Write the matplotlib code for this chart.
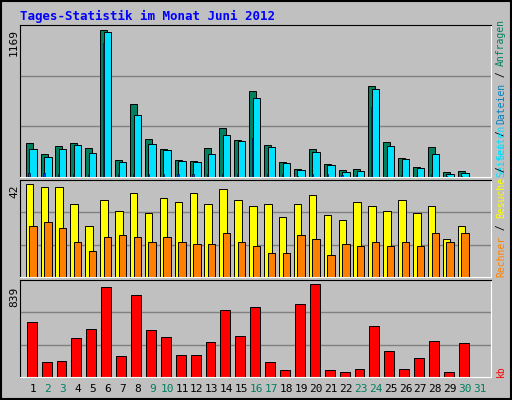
import matplotlib
matplotlib.use("Agg")
import matplotlib.pyplot as plt
import numpy as np

days = np.arange(1, 32)
hits  = [272, 185, 249, 272, 233, 1169, 138, 582, 304, 225, 138, 130, 233, 391, 296,
         685, 257, 122, 66, 225, 106, 58, 66, 725, 280, 153, 82, 241, 42, 50, 0]
files = [225, 161, 225, 257, 193, 1153, 122, 495, 265, 217, 130, 122, 185, 336, 288,
         630, 241, 114, 58, 201, 98, 42, 50, 701, 249, 145, 74, 185, 26, 34, 0]
pages = [30, 30, 25, 25, 25, 1066, 25, 25, 25, 25, 20, 20, 20, 25, 25,
         312, 25, 20, 10, 25, 20, 15, 15, 558, 10, 15, 10, 25, 10, 10, 0]
visits = [42, 41, 41, 33, 23, 35, 30, 38, 29, 36, 34, 38, 33, 40, 35,
          32, 33, 27, 33, 37, 28, 26, 34, 32, 30, 35, 29, 32, 17, 23, 0]
sites  = [23, 25, 22, 16, 12, 18, 19, 18, 16, 18, 16, 15, 15, 20, 16,
          14, 11, 11, 19, 17, 10, 15, 14, 16, 14, 16, 14, 20, 16, 20, 0]
kbytes = [499, 132, 141, 352, 435, 811, 187, 747, 426, 361, 196, 196, 315, 609, 370,
          637, 132, 67, 664, 839, 67, 49, 77, 462, 233, 77, 168, 325, 49, 306, 0]
weekend = {2, 3, 9, 10, 16, 17, 23, 24, 30, 31}

MONO = "DejaVu Sans Mono"
BG = "#C0C0C0"
C_HITS, C_FILES, C_PAGES = "#008060", "#00E0FF", "#0040FF"
C_VIS, C_SITES, C_KB = "#FFFF00", "#FF8000", "#FF0000"

fig = plt.figure(figsize=(5.12, 4.0), dpi=100)
fig.patch.set_facecolor(BG)
fig.patches.append(plt.Rectangle((0.002, 0.003), 0.996, 0.994, transform=fig.transFigure,
                                 fill=False, edgecolor="black", linewidth=1.5))

fig.text(20 / 512, 1 - 16 / 400, "Tages-Statistik im Monat Juni 2012", family=MONO,
         fontweight="bold", fontsize=9, color="#0000FF", va="center")

x0, x1 = 20 / 512, 491 / 512
xlim = (0.13, 31.74)


def panel(top_px, bot_px, ymax):
    ax = fig.add_axes([x0, 1 - bot_px / 400, x1 - x0, (bot_px - top_px) / 400])
    ax.set_facecolor(BG)
    ax.set_xlim(*xlim)
    ax.set_ylim(0, ymax)
    for f in (1 / 3, 2 / 3):
        ax.axhline(ymax * f, color="#808080", linewidth=1, zorder=0)
    ax.set_xticks([])
    ax.set_yticks([])
    for s in ("top", "left"):
        ax.spines[s].set_color("black")
    for s in ("bottom", "right"):
        ax.spines[s].set_color("white")
    return ax


bk = dict(edgecolor="black", linewidth=0.7, align="edge")

ax1 = panel(25, 177, 1169 * 458 / 442)
ax1.bar(days - 0.49, hits, width=0.47, color=C_HITS, zorder=2, **bk)
ax1.bar(days - 0.25, files, width=0.5, color=C_FILES, zorder=3, **bk)
ax1.bar(days - 0.3, pages, width=0.08, color=C_PAGES, zorder=4, edgecolor="black",
        linewidth=0.4, align="edge")

ax2 = panel(180, 277, 42 * 290 / 277)
ax2.bar(days - 0.49, visits, width=0.5, color=C_VIS, zorder=2, **bk)
ax2.bar(days - 0.25, sites, width=0.5, color=C_SITES, zorder=3, **bk)

ax3 = panel(280, 377, 839 * 287 / 274)
ax3.bar(days - 0.42, kbytes, width=0.67, color=C_KB, zorder=2, **bk)

# left max labels
for top_px, txt in ((29, "1169"), (184, "42"), (287, "839")):
    fig.text(14 / 512, 1 - top_px / 400, txt, rotation=90, family=MONO, fontsize=8,
             va="top", ha="center")

# day labels
for d in days:
    xd = x0 + (d - xlim[0]) / (xlim[1] - xlim[0]) * (x1 - x0)
    fig.text(xd, 1 - 389 / 400, str(d), family=MONO, fontsize=8, ha="center", va="center",
             color="#008060" if d in weekend else "black")

# right legends, stacked bottom to top (monospace: fixed advance per char)
CH = 7 * 0.602 * 100 / 72 / 400


def stack(bot_px, parts):
    y = 1 - bot_px / 400
    for txt, col in parts:
        fig.text(501 / 512, y, txt, rotation=90, rotation_mode="anchor", family=MONO,
                 fontsize=7, color=col, ha="left", va="center")
        y += len(txt) * CH


stack(177, [("Seiten", C_FILES), (" / ", "black"), ("Dateien", "#0080C0"),
            (" / ", "black"), ("Anfragen", C_HITS)])
stack(277, [("Rechner", C_SITES), (" / ", "black"), ("Besuche", C_VIS),
            (" / ", "black"), ("Seiten", C_FILES)])
stack(377, [("kb", C_KB)])

fig.savefig("out.png", dpi=100, facecolor=BG)
